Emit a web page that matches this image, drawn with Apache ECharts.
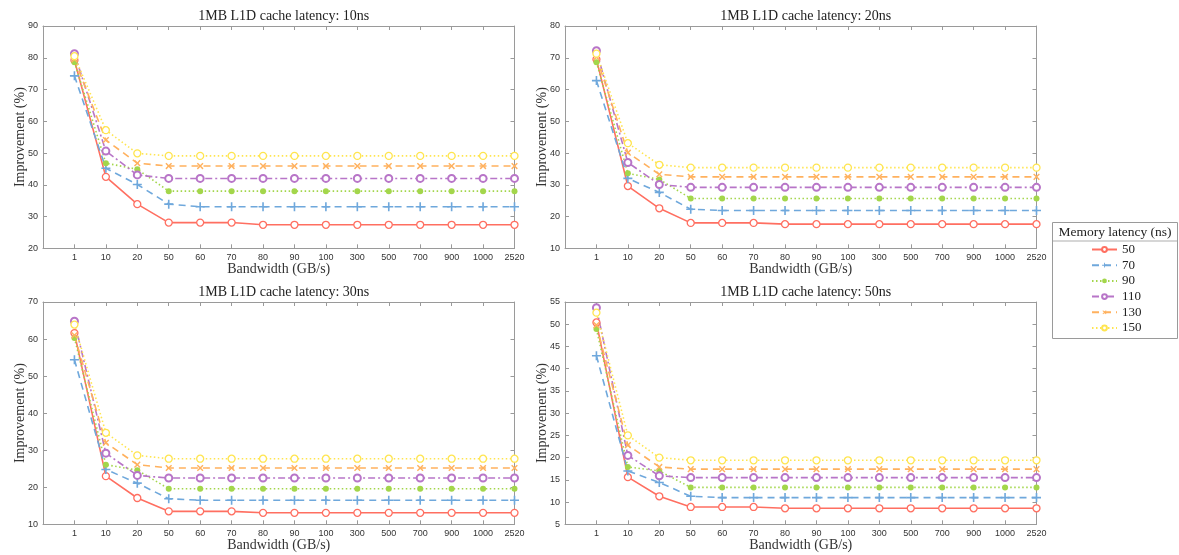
<!DOCTYPE html>
<html lang="en">
<head>
<meta charset="UTF-8">
<title>1MB L1D cache latency</title>
<script src="https://cdn.jsdelivr.net/npm/echarts@6/dist/echarts.min.js"></script>
<style>
    html, body { margin: 0; padding: 0; background: #fff; }
    #chart { width: 1179px; height: 555px; }
</style>
</head>
<body>
<div id="chart"></div>
<script>
// x categories and legend entries
const bandwidth = ['1', '10', '20', '50', '60', '70', '80', '90', '100', '300', '500', '700', '900', '1000', '2520'];
const memLatency = ['50', '70', '90', '110', '130', '150'];
const panelTitles = ['1MB L1D cache latency: 10ns', '1MB L1D cache latency: 20ns',
                     '1MB L1D cache latency: 30ns', '1MB L1D cache latency: 50ns'];

// y axis ranges per panel: [min, max, interval]
const yRange = [[20, 90, 10], [10, 80, 10], [10, 70, 10], [5, 55, 5]];

// L1D latency 10ns
const l10_m50  = [79.2, 42.5, 33.9, 28.1, 28.1, 28.1, 27.4, 27.4, 27.4, 27.4, 27.4, 27.4, 27.4, 27.4, 27.4];
const l10_m70  = [74.3, 45.2, 40.1, 33.9, 33.1, 33.1, 33.1, 33.1, 33.1, 33.1, 33.1, 33.1, 33.1, 33.1, 33.1];
const l10_m90  = [78.6, 46.8, 44.9, 38.0, 38.0, 38.0, 38.0, 38.0, 38.0, 38.0, 38.0, 38.0, 38.0, 38.0, 38.0];
const l10_m110 = [81.3, 50.6, 43.1, 42.0, 42.0, 42.0, 42.0, 42.0, 42.0, 42.0, 42.0, 42.0, 42.0, 42.0, 42.0];
const l10_m130 = [79.5, 54.1, 46.8, 45.9, 45.9, 45.9, 45.9, 45.9, 45.9, 45.9, 45.9, 45.9, 45.9, 45.9, 45.9];
const l10_m150 = [80.5, 57.2, 49.9, 49.1, 49.1, 49.1, 49.1, 49.1, 49.1, 49.1, 49.1, 49.1, 49.1, 49.1, 49.1];

// L1D latency 20ns
const l20_m50  = [69.5, 29.6, 22.6, 18.0, 18.0, 18.0, 17.6, 17.6, 17.6, 17.6, 17.6, 17.6, 17.6, 17.6, 17.6];
const l20_m70  = [62.8, 32.0, 27.6, 22.3, 21.9, 21.9, 21.9, 21.9, 21.9, 21.9, 21.9, 21.9, 21.9, 21.9, 21.9];
const l20_m90  = [68.6, 33.6, 31.7, 25.7, 25.7, 25.7, 25.7, 25.7, 25.7, 25.7, 25.7, 25.7, 25.7, 25.7, 25.7];
const l20_m110 = [72.2, 37.0, 30.1, 29.2, 29.2, 29.2, 29.2, 29.2, 29.2, 29.2, 29.2, 29.2, 29.2, 29.2, 29.2];
const l20_m130 = [70.2, 40.1, 33.3, 32.5, 32.5, 32.5, 32.5, 32.5, 32.5, 32.5, 32.5, 32.5, 32.5, 32.5, 32.5];
const l20_m150 = [71.3, 43.1, 36.3, 35.4, 35.4, 35.4, 35.4, 35.4, 35.4, 35.4, 35.4, 35.4, 35.4, 35.4, 35.4];

// L1D latency 30ns
const l30_m50  = [61.6, 23.0, 17.1, 13.5, 13.5, 13.5, 13.1, 13.1, 13.1, 13.1, 13.1, 13.1, 13.1, 13.1, 13.1];
const l30_m70  = [54.4, 24.8, 21.1, 16.9, 16.5, 16.5, 16.5, 16.5, 16.5, 16.5, 16.5, 16.5, 16.5, 16.5, 16.5];
const l30_m90  = [60.3, 26.1, 24.6, 19.6, 19.6, 19.6, 19.6, 19.6, 19.6, 19.6, 19.6, 19.6, 19.6, 19.6, 19.6];
const l30_m110 = [64.8, 29.2, 23.2, 22.5, 22.5, 22.5, 22.5, 22.5, 22.5, 22.5, 22.5, 22.5, 22.5, 22.5, 22.5];
const l30_m130 = [61.0, 32.0, 26.1, 25.2, 25.2, 25.2, 25.2, 25.2, 25.2, 25.2, 25.2, 25.2, 25.2, 25.2, 25.2];
const l30_m150 = [63.9, 34.7, 28.6, 27.7, 27.7, 27.7, 27.7, 27.7, 27.7, 27.7, 27.7, 27.7, 27.7, 27.7, 27.7];

// L1D latency 50ns
const l50_m50  = [50.4, 15.6, 11.3, 8.9, 8.9, 8.9, 8.6, 8.6, 8.6, 8.6, 8.6, 8.6, 8.6, 8.6, 8.6];
const l50_m70  = [42.9, 17.0, 14.4, 11.3, 11.0, 11.0, 11.0, 11.0, 11.0, 11.0, 11.0, 11.0, 11.0, 11.0, 11.0];
const l50_m90  = [48.9, 17.9, 17.0, 13.3, 13.3, 13.3, 13.3, 13.3, 13.3, 13.3, 13.3, 13.3, 13.3, 13.3, 13.3];
const l50_m110 = [53.7, 20.5, 15.9, 15.5, 15.5, 15.5, 15.5, 15.5, 15.5, 15.5, 15.5, 15.5, 15.5, 15.5, 15.5];
const l50_m130 = [49.8, 22.8, 17.9, 17.4, 17.4, 17.4, 17.4, 17.4, 17.4, 17.4, 17.4, 17.4, 17.4, 17.4, 17.4];
const l50_m150 = [52.6, 25.0, 20.0, 19.4, 19.4, 19.4, 19.4, 19.4, 19.4, 19.4, 19.4, 19.4, 19.4, 19.4, 19.4];

const panels = [
    [l10_m50, l10_m70, l10_m90, l10_m110, l10_m130, l10_m150],
    [l20_m50, l20_m70, l20_m90, l20_m110, l20_m130, l20_m150],
    [l30_m50, l30_m70, l30_m90, l30_m110, l30_m130, l30_m150],
    [l50_m50, l50_m70, l50_m90, l50_m110, l50_m130, l50_m150]
];

const serif = 'Liberation Serif';
const sans = 'Liberation Sans';
const boxColor = '#9a9a9a';
const cross = 'path://M4.1,0H5.9V4.1H10V5.9H5.9V10H4.1V5.9H0V4.1H4.1Z';

// line/marker look for each memory latency
const styles = [
    { color: '#ff6f61', dash: 'solid', symbol: 'circle', size: 7, fill: '#fff', bw: 1.3 },
    { color: '#6fa8dc', dash: [7, 5], symbol: cross, size: 9, fill: '#6fa8dc', bw: 0 },
    { color: '#a3d64b', dash: [1.5, 2.5], symbol: 'circle', size: 6, fill: '#a3d64b', bw: 0 },
    { color: '#b875c8', dash: [7, 3, 2, 3], symbol: 'circle', size: 7, fill: '#fff', bw: 2 },
    { color: '#ffb15e', dash: [7, 5], symbol: cross, size: 8, fill: '#ffb15e', bw: 0, rotate: 45 },
    { color: '#ffe54f', dash: [1.5, 2.5], symbol: 'circle', size: 7, fill: '#fff', bw: 1.3 }
];

// grid boxes
const grids = [
    { left: 43, top: 26, width: 471.5, height: 222.3 },
    { left: 565, top: 26, width: 471.5, height: 222.3 },
    { left: 43, top: 302, width: 471.5, height: 222.3 },
    { left: 565, top: 302, width: 471.5, height: 222.3 }
];

const xCats = [''].concat(bandwidth);
const xAxes = [], yAxes = [], series = [], titles = [];

grids.forEach((g, p) => {
    const tickStyle = { show: true, inside: true, length: 4, lineStyle: { color: boxColor } };
    const lineStyle = { show: true, lineStyle: { color: boxColor, width: 1 } };
    xAxes.push({
        gridIndex: p, type: 'category', data: xCats, boundaryGap: false, position: 'bottom',
        axisLine: lineStyle, axisTick: Object.assign({ interval: 0 }, tickStyle),
        axisLabel: { interval: 0, margin: 5, fontFamily: sans, fontSize: 9, color: '#333' },
        name: 'Bandwidth (GB/s)', nameLocation: 'middle', nameGap: 14, nameMoveOverlap: false,
        nameTextStyle: { fontFamily: serif, fontSize: 14, color: '#333' },
        splitLine: { show: false }
    });
    xAxes.push({
        gridIndex: p, type: 'category', data: xCats, boundaryGap: false, position: 'top',
        axisLine: lineStyle, axisTick: Object.assign({ interval: 0 }, tickStyle),
        axisLabel: { show: false }, splitLine: { show: false }
    });
    const r = yRange[p];
    yAxes.push({
        gridIndex: p, type: 'value', min: r[0], max: r[1], interval: r[2], position: 'left',
        axisLine: lineStyle, axisTick: tickStyle,
        axisLabel: { margin: 5, fontFamily: sans, fontSize: 9, color: '#333' },
        name: 'Improvement (%)', nameLocation: 'middle', nameGap: 16, nameMoveOverlap: false,
        nameTextStyle: { fontFamily: serif, fontSize: 14, color: '#333' },
        splitLine: { show: false }
    });
    yAxes.push({
        gridIndex: p, type: 'value', min: r[0], max: r[1], interval: r[2], position: 'right',
        axisLine: lineStyle, axisTick: tickStyle,
        axisLabel: { show: false }, splitLine: { show: false }
    });
    titles.push({
        text: panelTitles[p], left: g.left + g.width / 2, top: g.top - 22, textAlign: 'center',
        textStyle: { fontFamily: serif, fontSize: 14, fontWeight: 'normal', color: '#222' }
    });
    panels[p].forEach((vals, k) => {
        const s = styles[k];
        series.push({
            name: memLatency[k], type: 'line', xAxisIndex: p * 2, yAxisIndex: p * 2,
            data: [null].concat(vals),
            symbol: s.symbol, symbolSize: s.size, symbolRotate: s.rotate || 0, symbolKeepAspect: true,
            showAllSymbol: true,
            lineStyle: { color: s.color, width: 1.6, type: s.dash },
            itemStyle: { color: s.fill, borderColor: s.color, borderWidth: s.bw },
            emphasis: { disabled: true }
        });
    });
});

const chart = echarts.init(document.getElementById('chart'));
chart.setOption({
    animation: false,
    backgroundColor: '#fff',
    title: titles,
    grid: grids,
    xAxis: xAxes,
    yAxis: yAxes,
    series: series,
    legend: {
        data: memLatency, orient: 'vertical', left: 1091, top: 243, padding: 0,
        itemWidth: 25, itemHeight: 6, itemGap: 2.7,
        textStyle: { fontFamily: serif, fontSize: 13, color: '#222', lineHeight: 13 },
        selectedMode: false
    },
    graphic: [
        { type: 'rect', shape: { x: 1052.5, y: 222.5, width: 125, height: 116 },
          style: { fill: '#fff', stroke: '#9a9a9a', lineWidth: 1 }, z: -1 },
        { type: 'line', shape: { x1: 1053, y1: 241, x2: 1177, y2: 241 },
          style: { stroke: '#c8c8c8', lineWidth: 1.5 } },
        { type: 'text', x: 1115, y: 232,
          style: { text: 'Memory latency (ns)', fontFamily: serif, fontSize: 13.5, fill: '#222',
                   textAlign: 'center', textVerticalAlign: 'middle' } }
    ]
});
</script>
</body>
</html>
